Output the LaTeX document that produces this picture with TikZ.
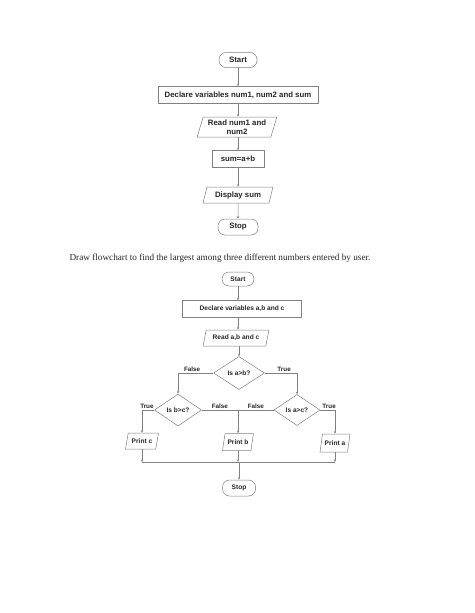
\documentclass[tikz,border=0pt]{standalone}
\usepackage{fontspec}
\setmainfont{Liberation Serif}
\setsansfont{Liberation Sans}
\usetikzlibrary{arrows.meta,shapes.geometric,positioning}

\tikzset{
  base/.style={draw=black!50, line width=0.5pt, text=black!85, font=\sffamily\bfseries\fontsize{7.8}{8.6}\selectfont, inner sep=1pt},
  small/.style={font=\sffamily\bfseries\fontsize{6.6}{7.4}\selectfont},
  term/.style={base, rectangle, rounded corners=7pt},
  proc/.style={base, rectangle},
  io/.style={base, trapezium, trapezium left angle=72, trapezium right angle=108, trapezium stretches=true},
  decide/.style={base, small, diamond, inner sep=0pt},
  link/.style={draw=black!50, line width=0.5pt},
  lbl/.style={text=black!85, font=\sffamily\bfseries\fontsize{6.3}{7}\selectfont, inner sep=1pt, above}
}

\begin{document}
\begin{tikzpicture}[x=1pt,y=-1pt,>={Stealth[length=2.6pt,width=2.2pt]}]
\useasboundingbox[fill=white] (0,0) rectangle (474,613);

% First flowchart (sum of two numbers)
  \node[term, minimum width=38pt, minimum height=15pt] (start1) at (238,60) {Start};
  \node[proc, minimum width=160pt, minimum height=17pt] (decl1) at (238,95) {Declare variables num1, num2 and sum};
  \node[io, minimum width=80pt, minimum height=20pt, align=center] (read1) at (237,127) {Read num1 and\\num2};
  \node[proc, minimum width=52pt, minimum height=17pt] (sum1) at (238,159) {sum=a+b};
  \node[io, minimum width=70pt, minimum height=16pt] (disp1) at (238,195) {Display sum};
  \node[term, minimum width=40pt, minimum height=16pt] (stop1) at (238,227) {Stop};
% Arrows of first flowchart
  \draw[link,->] (start1) -- (decl1);
  \draw[link,->] (decl1) -- (decl1 |- read1.north);
  \draw[link,->] (read1.south -| decl1) -- (sum1);
  \draw[link,->] (sum1) -- (disp1);
  \draw[link,->] (disp1) -- (stop1);

% Question text
  \node[text=black!85, font=\fontsize{9.2}{11}\selectfont, inner sep=0pt] (question) at (220,258)
    {Draw flowchart to find the largest among three different numbers entered by user.};

% Second flowchart (largest of three)
  \node[term, small, minimum width=32pt, minimum height=14pt] (start2) at (238,279) {Start};
  \node[proc, small, minimum width=119pt, minimum height=17pt] (decl2) at (242,309) {Declare variables a,b and c};
  \node[io, small, minimum width=66pt, minimum height=16pt] (read2) at (236,338) {Read a,b and c};
% Decisions
  \node[decide, minimum width=51pt, minimum height=33pt] (isab) at (239,373) {Is a>b?};
  \node[decide, minimum width=47pt, minimum height=32pt] (isbc) at (178,410) {Is b>c?};
  \node[decide, minimum width=46pt, minimum height=31pt] (isac) at (297,410) {Is a>c?};
% Outputs
  \node[io, small, minimum width=33pt, minimum height=16pt] (printc) at (142,441) {Print c};
  \node[io, small, minimum width=31pt, minimum height=17pt] (printb) at (238,442) {Print b};
  \node[io, small, minimum width=30pt, minimum height=18pt] (printa) at (335,443) {Print a};
  \node[term, small, minimum width=33pt, minimum height=16pt] (stop2) at (239,488) {Stop};
% Join points
  \coordinate (joinc) at (142,462);
  \coordinate (joinb) at (238,462);
  \coordinate (joina) at (335,462);

% Arrows of second flowchart
  \draw[link,->] (start2) -- (start2 |- decl2.north);
  \draw[link,->] (decl2.south -| start2) -- (read2.north -| start2);
  \draw[link,->] (read2.south -| isab) -- (isab.north);
  \draw[link,->] (isab.west) -| (isbc.north) node[lbl, pos=0.3] {False};
  \draw[link,->] (isab.east) -| (isac.north) node[lbl, pos=0.3] {True};
  \draw[link,->] (isbc.west) -| (printc.north) node[lbl, pos=0.3] {True};
  \draw[link,->] (isbc.east) -| (printb.north) node[lbl, pos=0.25] {False};
  \draw[link] (isac.west) -- (isac.west -| printb) node[lbl, pos=0.5] {False};
  \draw[link,->] (isac.east) -| (printa.north) node[lbl, pos=0.3] {True};
  \draw[link,->] (printc) -- (joinc);
  \draw[link,->] (printb) -- (joinb);
  \draw[link,->] (printa) -- (joina);
  \draw[link] (joinc) -- (joina);
  \draw[link,->] (joinb -| stop2) -- (stop2);
\end{tikzpicture}
\end{document}
